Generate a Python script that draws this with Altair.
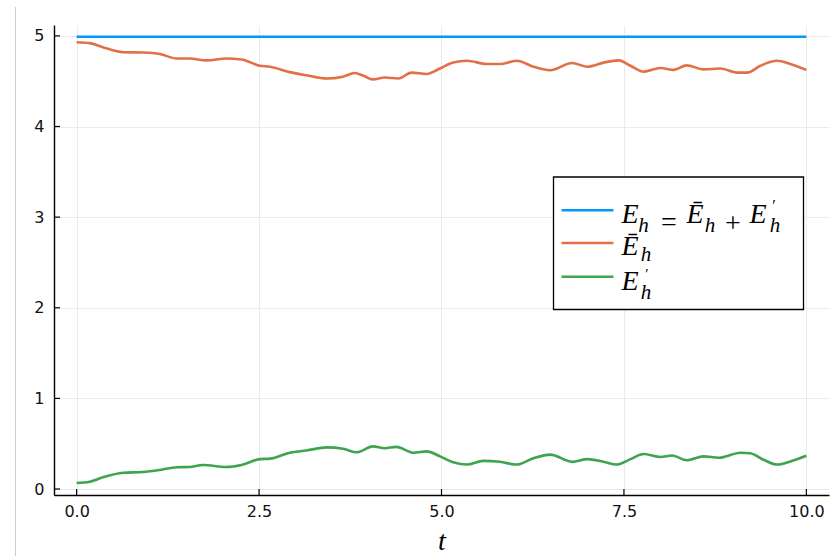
import altair as alt
import pandas as pd

# ---- series values ----
t_total = [0.0, 10.0]
E_total = [4.99, 4.99]

t_mean = [0.00, 0.18, 0.36, 0.64, 0.91, 1.14, 1.37, 1.55, 1.78, 2.05, 2.26, 2.51,
          2.65, 2.92, 3.15, 3.43, 3.65, 3.81, 3.93, 4.06, 4.22, 4.41, 4.59, 4.80,
          4.98, 5.16, 5.35, 5.62, 5.80, 6.03, 6.26, 6.49, 6.79, 7.00, 7.22, 7.43,
          7.59, 7.77, 8.00, 8.18, 8.36, 8.59, 8.82, 9.05, 9.19, 9.37, 9.60, 9.78, 10.0]
E_mean = [4.93, 4.92, 4.875, 4.82, 4.816, 4.80, 4.75, 4.75, 4.73, 4.75, 4.74, 4.67,
          4.66, 4.60, 4.565, 4.53, 4.55, 4.59, 4.56, 4.52, 4.54, 4.53, 4.595, 4.58,
          4.64, 4.705, 4.725, 4.69, 4.69, 4.725, 4.66, 4.62, 4.70, 4.66, 4.705, 4.73,
          4.67, 4.605, 4.645, 4.625, 4.675, 4.63, 4.64, 4.595, 4.595, 4.67, 4.725, 4.69, 4.625]

t_fluct = [0.00, 0.18, 0.36, 0.64, 0.91, 1.14, 1.37, 1.55, 1.73, 2.05, 2.26, 2.51,
           2.65, 2.92, 3.15, 3.43, 3.65, 3.84, 4.06, 4.22, 4.38, 4.62, 4.80, 4.98,
           5.16, 5.35, 5.57, 5.80, 6.03, 6.26, 6.49, 6.79, 7.00, 7.22, 7.40, 7.59,
           7.77, 8.00, 8.16, 8.36, 8.59, 8.80, 9.10, 9.23, 9.42, 9.60, 9.78, 10.0]
E_fluct = [0.066, 0.08, 0.13, 0.18, 0.188, 0.21, 0.24, 0.243, 0.265, 0.243, 0.265, 0.33,
           0.335, 0.40, 0.425, 0.46, 0.445, 0.405, 0.47, 0.45, 0.465, 0.40, 0.415, 0.36,
           0.295, 0.27, 0.31, 0.30, 0.27, 0.34, 0.38, 0.30, 0.33, 0.30, 0.27, 0.33,
           0.386, 0.353, 0.37, 0.317, 0.36, 0.345, 0.40, 0.394, 0.32, 0.27, 0.305, 0.367]

series_names = ["total", "mean", "fluct"]
series_colors = ["#009AFA", "#E36F47", "#3EA44E"]

x_ticks = [0.0, 2.5, 5.0, 7.5, 10.0]
y_ticks = [0, 1, 2, 3, 4, 5]

W, H = 775, 470

df = pd.concat([
    pd.DataFrame({"t": t_total, "E": E_total, "s": "total"}),
    pd.DataFrame({"t": t_mean, "E": E_mean, "s": "mean"}),
    pd.DataFrame({"t": t_fluct, "E": E_fluct, "s": "fluct"}),
], ignore_index=True)
df["order"] = df["s"].map({n: i for i, n in enumerate(series_names)})

x_scale = alt.Scale(domain=[-0.31, 10.31], nice=False, zero=False)
y_scale = alt.Scale(domain=[-0.066, 5.12], nice=False, zero=False)

lines = alt.Chart(df).mark_line(strokeWidth=2.6, interpolate="monotone").encode(
    x=alt.X("t:Q", scale=x_scale,
            axis=alt.Axis(values=x_ticks, format=".1f", title="t")),
    y=alt.Y("E:Q", scale=y_scale,
            axis=alt.Axis(values=y_ticks, format="d", title=None)),
    color=alt.Color("s:N", scale=alt.Scale(domain=series_names, range=series_colors),
                    legend=None),
    detail="s:N",
    order="order:Q",
)

xt = pd.DataFrame({"v": x_ticks})
yt = pd.DataFrame({"v": y_ticks})
# inward-pointing tick marks
x_tick_marks = alt.Chart(xt).mark_rule(color="black", strokeWidth=1.2).encode(
    x=alt.X("v:Q", scale=x_scale), y=alt.value(H), y2=alt.value(H - 6))
y_tick_marks = alt.Chart(yt).mark_rule(color="black", strokeWidth=1.2).encode(
    y=alt.Y("v:Q", scale=y_scale), x=alt.value(0), x2=alt.value(6))

anchor = pd.DataFrame({"k": [0]})


def rule(x, x2, y, y2, color, width):
    return alt.Chart(anchor).mark_rule(color=color, strokeWidth=width).encode(
        x=alt.value(x), x2=alt.value(x2), y=alt.value(y), y2=alt.value(y2))


def glyph(ch, x, y, size, style="italic"):
    return alt.Chart(anchor).mark_text(
        text=ch, font="Liberation Serif", fontStyle=style, fontSize=size,
        align="center", baseline="alphabetic", color="black"
    ).encode(x=alt.value(x), y=alt.value(y))


# thin frame line on the far left
left_line = rule(-38.5, -38.5, -18, 531, "#cccccc", 1)

# legend box
box = alt.Chart(anchor).mark_rect(fill="white", stroke="black", strokeWidth=1.3).encode(
    x=alt.value(499.5), x2=alt.value(749.5), y=alt.value(152), y2=alt.value(284.5))
key_lines = [
    rule(507.5, 559.5, 185.3, 185.3, series_colors[0], 2.6),
    rule(507.5, 559.5, 218.0, 218.0, series_colors[1], 2.6),
    rule(507.5, 559.5, 251.7, 251.7, series_colors[2], 2.6),
]
big, sub = 28, 21
labels = [
    # E_h = Ē_h + E'_h
    glyph("E", 576, 198, big), glyph("h", 589.5, 207, sub),
    glyph("=", 615, 206, big, "normal"),
    glyph("Ē", 641, 198, big), glyph("h", 656, 207, sub),
    glyph("+", 679, 207, big, "normal"),
    glyph("E", 704, 198, big), glyph("′", 720, 186, 16, "normal"), glyph("h", 721, 207, sub),
    # Ē_h
    glyph("Ē", 576, 230, big), glyph("h", 592, 236, sub),
    # E'_h
    glyph("E", 576, 265, big), glyph("′", 593, 254, 15, "normal"), glyph("h", 592, 274, sub),
]

chart = alt.layer(
    left_line, lines, x_tick_marks, y_tick_marks, box, *key_lines, *labels
).properties(
    width=W, height=H,
    padding={"left": 54, "top": 25, "right": 2, "bottom": 61},
    autosize=alt.AutoSizeParams(type="none"),
    background="white",
).configure_view(stroke=None).configure_axis(
    domainColor="black", domainWidth=1.4, ticks=False,
    grid=True, gridColor="#ebebeb", gridWidth=1,
    labelFont="DejaVu Sans", labelFontSize=16, labelColor="#111111",
).configure_axisY(labelPadding=10).configure_axisX(
    labelPadding=8, titleFont="Liberation Serif", titleFontStyle="italic",
    titleFontWeight="normal", titleFontSize=28, titlePadding=8, titleColor="black",
)

chart.save("out.html", embed_options={"renderer": "svg", "actions": False})
